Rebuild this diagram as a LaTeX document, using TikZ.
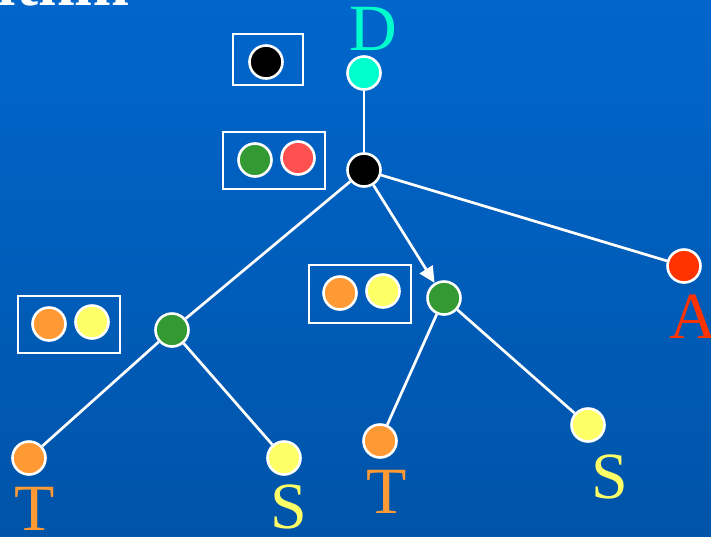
\documentclass[tikz,border=0pt]{standalone}
\usepackage{fontspec}
\setmainfont{Liberation Serif}
\usetikzlibrary{arrows.meta}
\definecolor{bgtop}{RGB}{0,102,204}
\definecolor{bgbot}{RGB}{0,84,168}
\definecolor{cgreen}{RGB}{51,153,51}
\definecolor{cred}{RGB}{255,80,80}
\definecolor{corange}{RGB}{255,153,51}
\definecolor{cyellow}{RGB}{255,255,102}
\definecolor{caqua}{RGB}{0,255,204}
\definecolor{cA}{RGB}{255,51,0}
\tikzset{
  vtx/.style={circle, draw=white, line width=2.6pt, minimum size=33pt, inner sep=0pt},
  setbox/.style={draw=white, line width=2.8pt, fill=none},
  edge/.style={draw=white, line width=2.7pt},
  lbl/.style={anchor=base, inner sep=0pt, font=\fontsize{66}{66}\selectfont},
}
\begin{document}
\begin{tikzpicture}[x=1pt,y=-1pt]
  \useasboundingbox (0,0) rectangle (711,536);
  \clip (0,0) rectangle (711,536);
  \shade[top color=bgtop, bottom color=bgbot] (0,0) rectangle (711,536);

  % heading, mostly above the frame
  \node[anchor=base east, inner sep=0pt, text=white,
        font=\fontsize{66}{66}\selectfont\bfseries] (title) at (130,5) {ithm};

  % candidate sets
  \draw[setbox] (233,34) rectangle (303,85);
  \node[vtx, fill=black] (s1) at (266,62) {};
  \draw[setbox] (223,132) rectangle (325,189);
  \node[vtx, fill=cgreen] (s2a) at (255,160) {};
  \node[vtx, fill=cred] (s2b) at (298,158) {};
  \draw[setbox] (309,265) rectangle (411,323);
  \node[vtx, fill=corange] (s3a) at (340,293) {};
  \node[vtx, fill=cyellow] (s3b) at (383,291) {};
  \draw[setbox] (18,296) rectangle (120,353);
  \node[vtx, fill=corange] (s4a) at (49,324) {};
  \node[vtx, fill=cyellow] (s4b) at (92,322) {};

  % search tree
  \node[vtx, fill=caqua] (d) at (364,73) {};
  \node[vtx, fill=black] (root) at (364,170) {};
  \node[vtx, fill=cA] (a) at (684,266) {};
  \node[vtx, fill=cgreen] (gl) at (172,330) {};
  \node[vtx, fill=cgreen] (gr) at (444,298) {};
  \node[vtx, fill=corange] (t1) at (29,458) {};
  \node[vtx, fill=cyellow] (s1l) at (284,458) {};
  \node[vtx, fill=corange] (t2) at (380,441) {};
  \node[vtx, fill=cyellow] (s2r) at (588,425) {};

  \draw[edge] (d) -- (root);
  \draw[edge] (root) -- (a);
  \draw[edge] (root) -- (gl);
  \draw[edge, -{Triangle[length=16pt,width=15pt]}] (root) -- (gr);
  \draw[edge] (gl) -- (t1);
  \draw[edge] (gl) -- (s1l);
  \draw[edge] (gr) -- (t2);
  \draw[edge] (gr) -- (s2r);

  % labels
  \node[lbl, text=caqua] (ld) at (373,50) {D};
  \node[lbl, text=cA] (la) at (693,338) {A};
  \node[lbl, text=corange] (lt1) at (35,530) {T};
  \node[lbl, text=cyellow] (ls1) at (289,528) {S};
  \node[lbl, text=corange] (lt2) at (387,513) {T};
  \node[lbl, text=cyellow] (ls2) at (610,498) {S};
\end{tikzpicture}
\end{document}
